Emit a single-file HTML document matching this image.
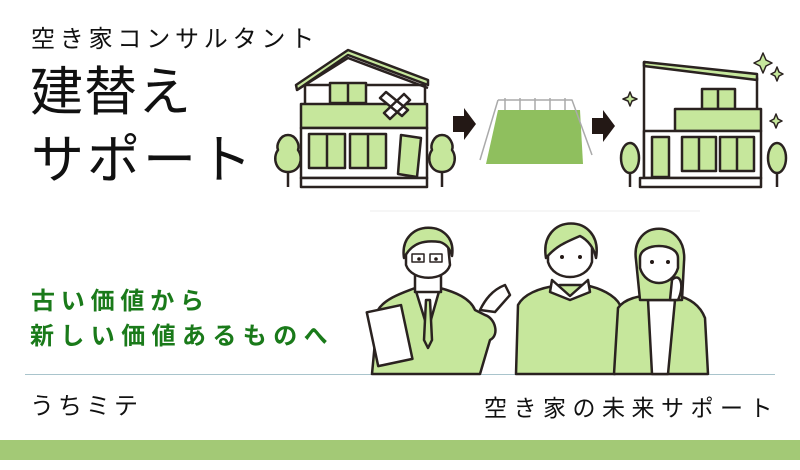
<!DOCTYPE html>
<html><head><meta charset="utf-8"><style>
*{margin:0;padding:0}
body{width:800px;height:470px;background:#fff;position:relative;overflow:hidden;font-family:"Liberation Sans","Noto Sans CJK JP",sans-serif;color:#111}
.t{position:absolute;white-space:nowrap;line-height:1}
</style></head><body>
<div class="t" style="left:31px;top:28px;font-size:24px;letter-spacing:4.8px">空き家コンサルタント</div>
<div class="t" style="left:30px;top:66px;font-size:53px;letter-spacing:1px">建替え</div>
<div class="t" style="left:31px;top:134px;font-size:53px;letter-spacing:3px">サポート</div>
<div class="t" style="left:31px;top:290px;font-size:24px;font-weight:bold;letter-spacing:5.8px;color:#1a7a1a">古い価値から</div>
<div class="t" style="left:30px;top:325px;font-size:24px;font-weight:bold;letter-spacing:6.4px;color:#1a7a1a">新しい価値あるものへ</div>
<div style="position:absolute;left:25px;top:374px;width:750px;height:1px;background:#a9c4cc"></div>
<div class="t" style="left:30px;top:395px;font-size:24px;letter-spacing:4px">うちミテ</div>
<div class="t" style="left:484px;top:397px;font-size:23px;letter-spacing:6.5px">空き家の未来サポート</div>
<div style="position:absolute;left:0;top:440px;width:800px;height:20px;background:#a3c976"></div>
<svg style="position:absolute;left:0;top:0" width="800" height="470" viewBox="0 0 800 470">
<g stroke="#2a2220" stroke-width="2.5" fill="#c6e79c" stroke-linejoin="round">
<rect x="305" y="85" width="120" height="20" fill="#fff"/>
<path d="M297 90 L348 55 L428 85 L428 80 L348 50 L296 85Z"/>
<path d="M297 90 L348 58 L428 88" fill="none"/>
<rect x="330" y="83" width="36" height="20"/>
<line x1="348" y1="83" x2="348" y2="103"/>
<rect x="301" y="104" width="126" height="24"/>
<rect x="301" y="128" width="126" height="50" fill="#fff"/>
<rect x="309" y="134" width="36" height="34"/><line x1="327" y1="134" x2="327" y2="168"/>
<rect x="350" y="134" width="36" height="34"/><line x1="368" y1="134" x2="368" y2="168"/>
<path d="M401 135 L421 138 L417 177 L398 174Z"/>
<rect x="301" y="178" width="126" height="9" fill="#fff"/>
<path d="M386 92 L408 110 L402 116 L380 98Z M384 113 L404 94 L410 100 L390 119Z" fill="#fff"/>
<path d="M288 135 C280 135 276 145 278 150 C272 158 276 172 288 172 C300 172 304 158 298 150 C300 145 296 135 288 135Z"/>
<line x1="288" y1="172" x2="288" y2="187"/>
<path d="M442 135 C434 135 430 145 432 150 C426 158 430 172 442 172 C454 172 458 158 452 150 C454 145 450 135 442 135Z"/>
<line x1="442" y1="172" x2="442" y2="187"/>
<path d="M453 116 L464 116 L464 108 L476 124 L464 140 L464 132 L453 132Z" fill="#231815" stroke="none"/>
<path d="M592 118 L603 118 L603 110 L615 126 L603 142 L603 134 L592 134Z" fill="#231815" stroke="none"/>
<path d="M498 110 L580 110 L583 164 L486 164Z" fill="#8fbf5e" stroke="none"/>
<g stroke="#aaa" stroke-width="1.5" fill="none"><path d="M498 100 L572 100 L592 155 M498 100 L480 160"/>
<path d="M505 98V110 M520 98V110 M535 98V110 M550 98V110 M565 98V110"/></g>
<path d="M644 62 L757 78 L757 110" fill="none"/>
<path d="M644 62 L757 74 L757 80 L644 66Z"/>
<line x1="644" y1="62" x2="644" y2="186"/>
<rect x="702" y="89" width="33" height="20"/><line x1="718" y1="89" x2="718" y2="109"/>
<rect x="675" y="109" width="86" height="22"/>
<rect x="644" y="131" width="117" height="47" fill="#fff"/>
<rect x="652" y="137" width="17" height="40"/>
<rect x="682" y="137" width="34" height="34"/><line x1="699" y1="137" x2="699" y2="171"/>
<rect x="720" y="137" width="34" height="34"/><line x1="737" y1="137" x2="737" y2="171"/>
<rect x="640" y="178" width="121" height="9" fill="#fff"/>
<ellipse cx="630" cy="158" rx="9" ry="15"/><line x1="630" y1="173" x2="630" y2="187"/>
<ellipse cx="777" cy="158" rx="9" ry="15"/><line x1="777" y1="173" x2="777" y2="187"/>
<g stroke-width="1.5"><path d="M763 53 L766 60 L772 63 L766 66 L763 73 L760 66 L754 63 L760 60Z"/>
<path d="M777 67 L779 72 L783 74 L779 76 L777 81 L775 76 L771 74 L775 72Z"/>
<path d="M630 92 L632 97 L637 99 L632 101 L630 106 L628 101 L623 99 L628 97Z"/>
<path d="M776 114 L778 119 L782 121 L778 123 L776 128 L774 123 L770 121 L774 119Z"/></g>
<line x1="370" y1="211" x2="700" y2="211" stroke="#eee" stroke-width="1"/>
<path d="M372 374 L378 310 C385 298 405 292 415 288 L440 288 C455 292 470 298 475 310 L485 315 C495 318 500 335 490 340 L480 374Z"/>
<path d="M415 288 L428 330 L440 288Z" fill="#fff"/>
<path d="M426 300 L430 300 L432 340 L428 348 L424 340Z"/>
<path d="M480 310 C485 300 492 290 505 285 L510 295 L495 312Z" fill="#fff"/>
<rect x="372" y="308" width="35" height="55" transform="rotate(-12 390 335)" fill="#fff"/>
<rect x="415" y="270" width="26" height="22" fill="#fff"/>
<path d="M406 245 C406 230 448 230 448 245 L450 265 C445 282 412 282 406 265Z" fill="#fff"/>
<path d="M404 258 C398 218 458 218 452 256 C450 248 446 244 440 242 C425 240 412 242 404 258Z"/>
<g fill="none" stroke-width="1.5"><rect x="412" y="254" width="12" height="8"/><rect x="430" y="254" width="12" height="8"/></g>
<path d="M516 374 L518 305 C525 292 545 287 560 285 L585 285 C600 288 615 295 620 305 L615 374Z"/>
<path d="M552 280 L570 296 L588 280 L590 292 L570 300 L550 292Z" fill="#fff"/>
<path d="M548 245 C548 230 592 230 592 245 L592 262 C586 282 554 282 548 262Z" fill="#fff"/>
<path d="M546 258 C538 212 604 212 596 258 C594 248 588 240 580 236 C566 242 556 246 546 258Z"/>
<path d="M614 374 L618 308 C625 298 640 296 650 295 L675 295 C690 298 700 305 705 318 L708 374Z"/>
<path d="M648 300 L675 300 L668 374 L652 374Z" fill="#fff"/>
<path d="M636 260 C630 218 688 218 684 262 L682 300 L640 300Z"/>
<path d="M640 258 C640 242 678 242 678 258 L678 268 C672 288 646 288 640 268Z" fill="#fff"/>
<path d="M672 280 C680 272 685 285 678 300 L670 300Z" fill="#fff"/>
</g>
<g fill="#231815"><circle cx="419" cy="259" r="1.8"/><circle cx="436" cy="259" r="1.8"/><circle cx="562" cy="257" r="2"/><circle cx="580" cy="257" r="2"/><circle cx="652" cy="262" r="2"/><circle cx="668" cy="262" r="2"/></g>
</svg>
</body></html>
